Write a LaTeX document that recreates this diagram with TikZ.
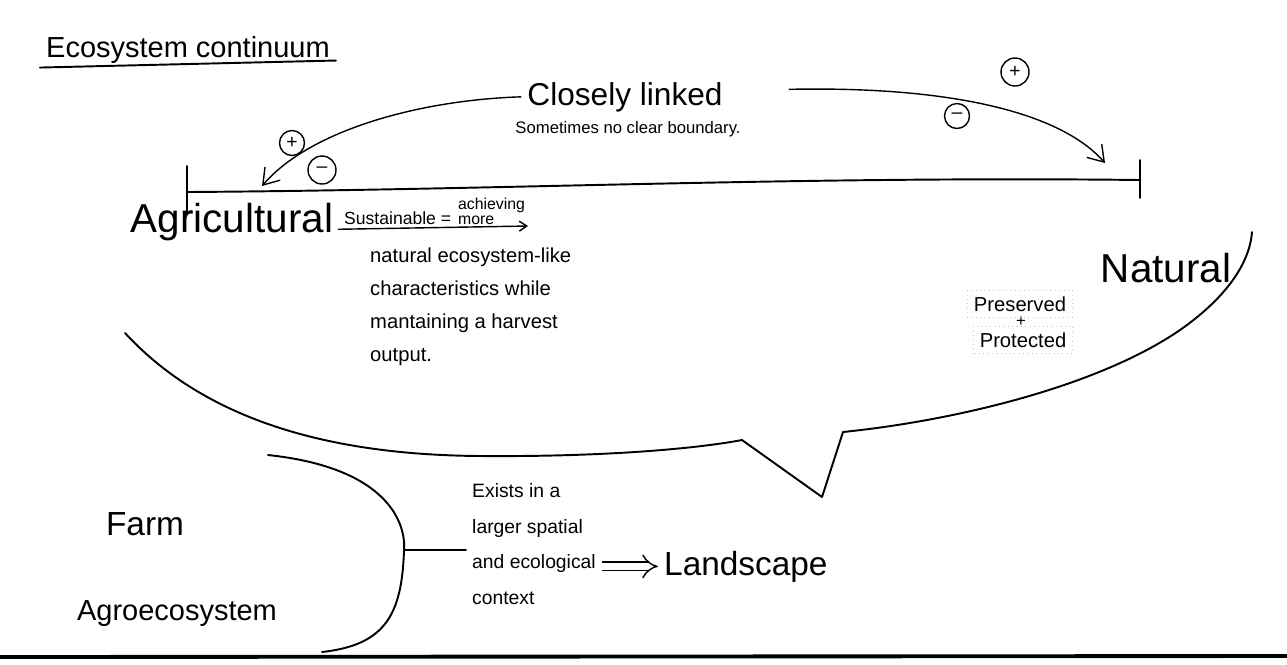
\documentclass[tikz,border=0pt]{standalone}
\usepackage{fontspec}
\setmainfont{Liberation Sans}
\usetikzlibrary{arrows.meta, positioning}

\begin{document}
\begin{tikzpicture}[
    x=0.02cm, y=-0.02cm,
    pen/.style={line width=1.1pt, line cap=round, line join=round},
    arr/.style={-{Straight Barb[length=3mm,width=4mm]}, line width=0.8pt},
    sign/.style={circle, draw, line width=0.8pt, inner sep=0pt, minimum size=0.5cm, font=\fontsize{11}{11}\selectfont},
    faint/.style={gray!45, dotted, line width=0.5pt},
    headtxt/.style={font=\fontsize{16.5}{18}\selectfont},
    bigtxt/.style={font=\fontsize{23}{26}\selectfont},
    linktxt/.style={font=\fontsize{18}{20}\selectfont},
    midtxt/.style={font=\fontsize{19}{22}\selectfont},
    smalltxt/.style={font=\fontsize{9.5}{11}\selectfont},
    tinytxt/.style={font=\fontsize{9}{10}\selectfont, inner sep=1pt},
    notetxt/.style={font=\fontsize{11.5}{18.8}\selectfont}
]
    \useasboundingbox (0,0) rectangle (1287,664);

    % Title
    \node[headtxt, anchor=base west] (title) at (40,57) {Ecosystem continuum};
    \draw[pen] ([yshift=-6pt]title.base west) -- ([yshift=-2pt]title.base east);

    % Closely linked
    \node[linktxt, anchor=base] (cl) at (625,105) {Closely linked};
    \node[smalltxt, anchor=base] (nob) at (628,133) {Sometimes no clear boundary.};

    % Continuum line with end ticks
    \coordinate (lend) at (187,192);
    \coordinate (rend) at (1140,180);
    \draw[pen] (lend) .. controls (500,190) and (800,176) .. (rend);
    \draw[pen] (187,166) -- (187,214);
    \draw[pen] (1140,160) -- (1140,198);

    % Arrows from Closely linked to both ends
    \coordinate (agtip) at (262,186);
    \coordinate (nattip) at (1105,163);
    \draw[arr] (cl.west) .. controls (420,100) and (310,130) .. (agtip);
    \draw[arr] ([xshift=1.2cm,yshift=0.15cm]cl.east) .. controls (950,86) and (1060,112) .. (nattip);

    % Signs on the arrows
    \node[sign] (lp) at (292,143) {+};
    \node[sign, minimum size=0.56cm] (lm) at (322,170) {–};
    \node[sign, minimum size=0.56cm] (rp) at (1015,72) {+};
    \node[sign] (rm) at (957,116) {–};

    % Agricultural end
    \node[bigtxt, anchor=base] (agri) at (232,232) {Agricultural};
    \node[notetxt, font=\fontsize{10}{12}\selectfont, anchor=base west] (sus) at (338,224) {Sustainable =};
    \node[tinytxt, anchor=base west] (ach) at (456,209) {achieving};
    \node[tinytxt, anchor=base west] (more) at (456,224) {more};
    \coordinate (susend) at (528,226);
    \draw[line width=0.8pt, -{Straight Barb[length=1.5mm,width=2mm]}] ([yshift=-3pt]sus.base west) -- (susend);
    \node[notetxt, align=left, anchor=north west] (desc) at (364,242)
        {natural ecosystem-like\\characteristics while\\mantaining a harvest\\output.};

    % Natural end
    \node[bigtxt, anchor=base] (nat) at (1166,282) {Natural};
    \node[notetxt, anchor=base] (pres) at (1020,311) {Preserved};
    \node[smalltxt, anchor=base] (plus) at (1021,326) {+};
    \node[notetxt, anchor=base] (prot) at (1023,347) {Protected};
    \draw[faint] (pres.south west) rectangle (pres.north east);
    \draw[faint] (prot.south west) rectangle (prot.north east);

    % Speech bubble round the continuum
    \draw[pen] (125,333) .. controls (210,425) and (340,455) .. (480,456)
        .. controls (610,457) and (700,448) .. (742,440)
        -- (822,497) -- (843,432)
        .. controls (960,420) and (1100,385) .. (1180,330)
        .. controls (1230,295) and (1250,260) .. (1252,232);

    % Farm and agroecosystem
    \node[midtxt, anchor=base] (farm) at (145,535) {Farm};
    \node[headtxt, anchor=base] (agro) at (177,620) {Agroecosystem};

    % Bracket
    \coordinate (brtip) at (404,550);
    \draw[pen] (268,455) .. controls (390,468) and (406,525) .. (brtip)
        .. controls (402,615) and (385,645) .. (322,652);

    % Context and landscape
    \node[notetxt, align=left, anchor=north west, font=\fontsize{11}{20.4}\selectfont] (ctx) at (466,477)
        {Exists in a\\larger spatial\\and ecological\\context};
    \draw[pen] (brtip) -- (brtip -| ctx.west);
    \node[midtxt, anchor=base west] (land) at (658,575) {Landscape};
    \draw[line width=0.8pt, double, double distance=4pt, -{Implies}] (ctx.east |- land.west) -- (land.west);

    % Bottom edge
    \draw[line width=2.2pt] (0,657) -- (1287,656);

\end{tikzpicture}
\end{document}
